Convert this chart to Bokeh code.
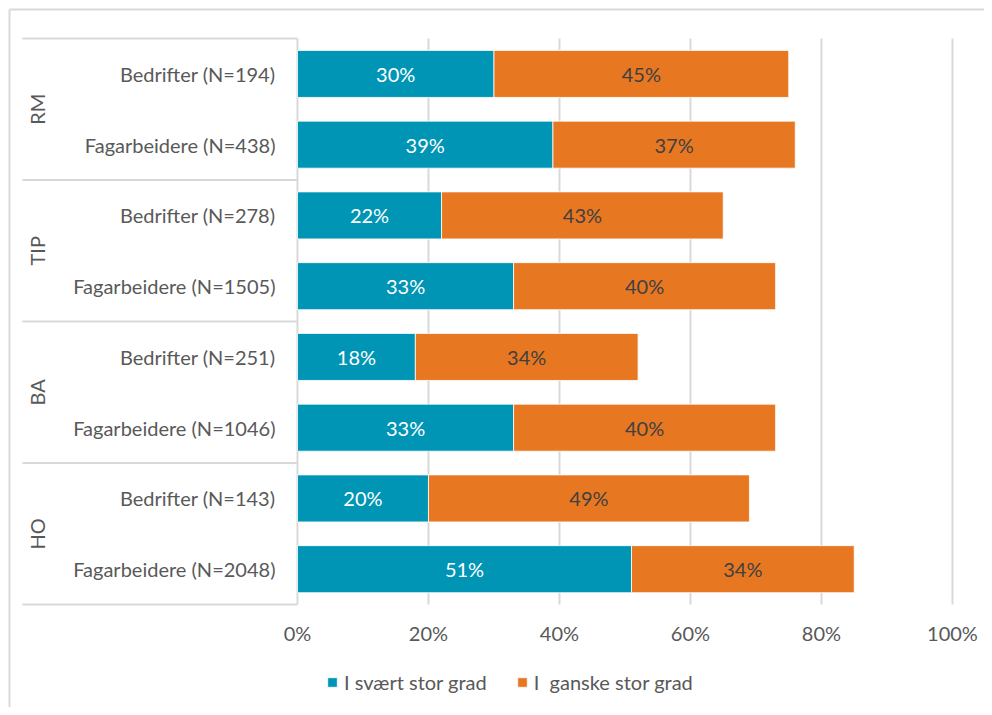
from bokeh.plotting import figure
from bokeh.models import Range1d, ColumnDataSource, Legend, LegendItem
from bokeh.core.properties import value
from bokeh.embed import file_html
from bokeh.resources import INLINE

# ---- data ----
groups = ["RM", "TIP", "BA", "HO"]
roles = ["Bedrifter", "Fagarbeidere"]
n_values = [194, 438, 278, 1505, 251, 1046, 143, 2048]
svaert = [30, 39, 22, 33, 18, 33, 20, 51]
ganske = [45, 37, 43, 40, 34, 40, 49, 34]
x_ticks = [0, 20, 40, 60, 80, 100]
tick_labels = ["0%", "20%", "40%", "60%", "80%", "100%"]
series_names = ["I svært stor grad", "I  ganske stor grad"]

TEAL = "#0095b5"
ORANGE = "#e87722"
GRAY_TXT = "#595959"
LINE = "#d9d9d9"
FONT = "Lato"
FS = "20px"

n_rows = len(n_values)
rows = [-i for i in range(n_rows)]
cat_labels = []
for gi, g in enumerate(groups):
    for ri, r in enumerate(roles):
        cat_labels.append(f"{r} (N={n_values[gi * len(roles) + ri]})")

XR = Range1d(-45.34, 104.89)
YR = Range1d(-8.955, 1.0375)
p = figure(width=984, height=707, x_range=XR, y_range=YR,
           x_axis_type=None, y_axis_type=None,
           output_backend="svg", toolbar_location=None, min_border=0)
p.grid.visible = False
p.outline_line_color = None

# outer chart-area border (only top and left edges fall inside the window)
bx = XR.start + 9 / 6.55
by = YR.end - 9 / 70.75
p.segment(x0=[bx, bx], x1=[bx, XR.end + 10], y0=[YR.start - 1, by], y1=[by, by],
          line_color=LINE, line_width=2)

top_edge = rows[0] + 0.5
bottom_edge = rows[-1] - 0.5

# gridlines
p.segment(x0=x_ticks[1:], x1=x_ticks[1:], y0=[top_edge] * 5, y1=[bottom_edge] * 5,
          line_color=LINE, line_width=2)
# axis line at 0
p.segment(x0=[0], x1=[0], y0=[top_edge], y1=[bottom_edge], line_color=LINE, line_width=2)

# group separator lines in the label area
sep_y = [top_edge - 2 * k for k in range(len(groups) + 1)]
p.segment(x0=[-42.0] * len(sep_y), x1=[0] * len(sep_y), y0=sep_y, y1=sep_y,
          line_color=LINE, line_width=2)

# bars
src = ColumnDataSource(dict(
    y=rows, s=svaert, g=ganske,
    s_end=svaert, g_end=[a + b for a, b in zip(svaert, ganske)],
    s_mid=[a / 2 for a in svaert],
    g_mid=[a + b / 2 for a, b in zip(svaert, ganske)],
    s_txt=[f"{v}%" for v in svaert], g_txt=[f"{v}%" for v in ganske],
    lab=cat_labels,
))
r1 = p.hbar(y="y", left=0, right="s_end", height=0.665, source=src,
            fill_color=TEAL, line_color="white", line_width=0.8)
r2 = p.hbar(y="y", left="s_end", right="g_end", height=0.665, source=src,
            fill_color=ORANGE, line_color="white", line_width=0.8)

p.text(x="s_mid", y="y", text="s_txt", source=src, text_align="center",
       text_baseline="middle", text_color="white", text_font=value(FONT),
       text_font_size=FS)
p.text(x="g_mid", y="y", text="g_txt", source=src, text_align="center",
       text_baseline="middle", text_color="#404040", text_font=value(FONT),
       text_font_size=FS)

# category labels
p.text(x=-3.36, y="y", text="lab", source=src, text_align="right",
       text_baseline="middle", text_color=GRAY_TXT, text_font=value(FONT),
       text_font_size=FS)

# group labels (rotated)
gy = [top_edge - 1 - 2 * k for k in range(len(groups))]
p.text(x=[-39.7] * len(groups), y=gy, text=groups, angle=1.5708,
       text_align="center", text_baseline="middle", text_color=GRAY_TXT,
       text_font=value(FONT), text_font_size=FS)

# x tick labels
p.text(x=x_ticks, y=[-7.895] * len(x_ticks), text=tick_labels,
       text_align="center", text_baseline="middle", text_color=GRAY_TXT,
       text_font=value(FONT), text_font_size=FS)

legend = Legend(items=[LegendItem(label=series_names[0], renderers=[r1]),
                       LegendItem(label=series_names[1], renderers=[r2])],
                orientation="horizontal", location=(326, 13),
                glyph_width=12, glyph_height=12, label_standoff=6, spacing=29,
                padding=0, margin=0, border_line_color=None,
                background_fill_alpha=0,
                label_text_font=FONT, label_text_font_size=FS,
                label_text_color=GRAY_TXT)
p.add_layout(legend)

open("out.html", "w").write(file_html(p, INLINE))
